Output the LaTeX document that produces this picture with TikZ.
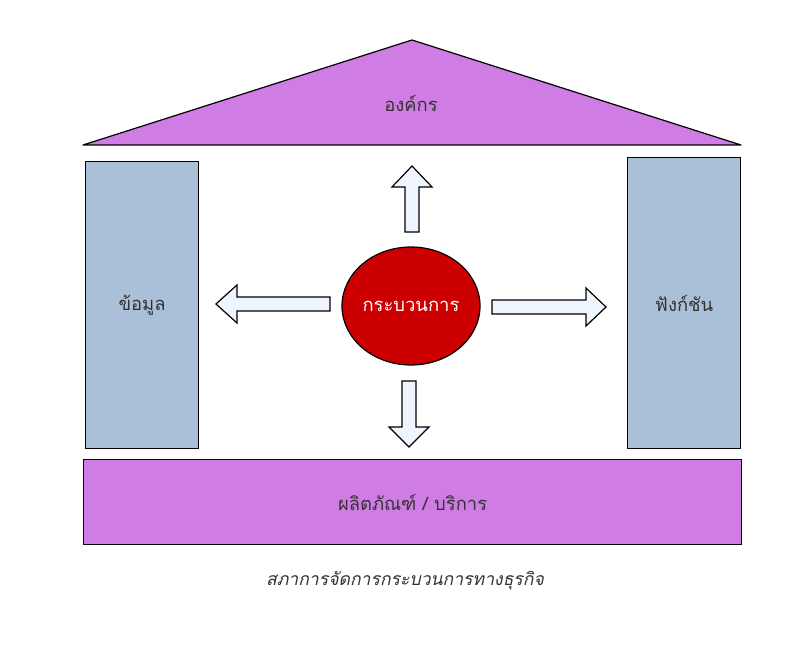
\documentclass[tikz,border=0pt]{standalone}
\usepackage{fontspec}
\usepackage{xcolor}
\usepackage{tikz}
\usetikzlibrary{shapes.geometric}
\newfontfamily\thaifont[Script=Thai]{Loma}
\definecolor{roofpurple}{HTML}{CF7DE4}
\definecolor{pillarblue}{HTML}{AABFD8}
\definecolor{corered}{HTML}{CC0000}
\definecolor{arrowbg}{HTML}{EEF5FF}
\definecolor{labelgray}{HTML}{333333}

\begin{document}
\begin{tikzpicture}[x=0.75pt, y=-0.75pt, line width=0.9pt,
    every node/.style={font=\thaifont\fontsize{13.8}{16}\selectfont, text=labelgray},
    roof/.style={draw=black, fill=roofpurple, line join=round},
    pillar/.style={draw=black, fill=pillarblue, rectangle, anchor=north west, inner sep=0pt},
    base/.style={draw=black, fill=roofpurple, rectangle, anchor=north west, inner sep=0pt},
    core/.style={draw=black, fill=corered, ellipse, minimum width=138*0.75pt, minimum height=118*0.75pt,
                 inner sep=0pt, text=white},
    blockarr/.style={draw=black, fill=arrowbg, line join=miter},
]
    % canvas, in pixels of the reference
    \useasboundingbox (0,0) rectangle (807,648);

    % Roof
    \coordinate (apex)  at (412, 40);
    \coordinate (eaveL) at ( 83,145);
    \coordinate (eaveR) at (741,145);
    \draw[roof] (eaveL) -- (apex) -- (eaveR) -- cycle;
    \node (org) at (411,103) {องค์กร};

    % Pillars
    \node[pillar, minimum width=113*0.75pt, minimum height=287*0.75pt] (data) at (85,161) {};
    \node at (data.center) {ข้อมูล};
    \node[pillar, minimum width=113*0.75pt, minimum height=291*0.75pt] (func) at (627,157) {};
    \node at (func.center) {ฟังก์ชัน};

    % Base
    \node[base, minimum width=658*0.75pt, minimum height=85*0.75pt] (prod) at (83,459) {};
    \node at (prod.center) {ผลิตภัณฑ์ / บริการ};

    % Core process
    \node[core] (proc) at (411,306) {กระบวนการ};

    % Block arrows out of the core
    % up
    \draw[blockarr] (405,232) -- (405,187) -- (392,187) -- (412,166) -- (432,187)
        -- (419,187) -- (419,232) -- cycle;
    % down
    \draw[blockarr] (402,381) -- (402,427) -- (389,427) -- (409,447) -- (429,427)
        -- (416,427) -- (416,381) -- cycle;
    % left
    \draw[blockarr] (330,297) -- (237,297) -- (237,285) -- (216,304) -- (237,323)
        -- (237,311) -- (330,311) -- cycle;
    % right
    \draw[blockarr] (492,300) -- (586,300) -- (586,288) -- (606,307) -- (586,326)
        -- (586,314) -- (492,314) -- cycle;

    % Caption
    \node[font=\thaifont\itshape\fontsize{13.2}{16}\selectfont] (caption) at (405,581)
        {สภาการจัดการกระบวนการทางธุรกิจ};

\end{tikzpicture}
\end{document}
